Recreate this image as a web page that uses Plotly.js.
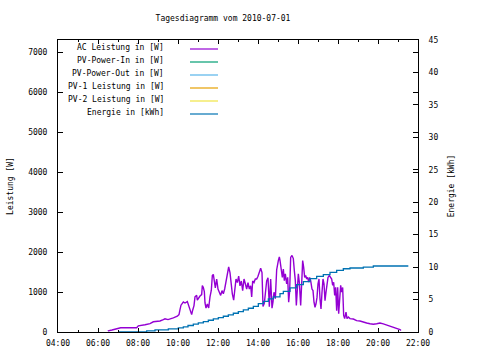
<!DOCTYPE html>
<html>
<head>
<meta charset="utf-8">
<script src="https://cdn.plot.ly/plotly-3.0.1.min.js"></script>
<style>html,body{margin:0;padding:0;background:#fff;}#chart{width:480px;height:360px;}</style>
</head>
<body>
<div id="chart"></div>
<script>
const chartDate = "2010-07-01";
const chartTitle = "Tagesdiagramm vom 2010-07-01";
const seriesNames = ["AC Leistung in [W]", "PV-Power-In in [W]", "PV-Power-Out in [W]", "PV-1 Leistung in [W]", "PV-2 Leistung in [W]", "Energie in [kWh]"];
const seriesColors = ["#9400d3", "#009e73", "#56b4e9", "#e69f00", "#f0e442", "#0072b2"];

const acTimes = ["06:30","06:31","06:42","06:54","07:08","07:56","08:01","08:21","08:36","08:46","09:06","09:16","09:21","09:30","09:41","09:46","09:58","10:03","10:06","10:09","10:16","10:21","10:28","10:30","10:36","10:41","10:44","10:48","10:51","10:56","10:58","11:02","11:06","11:11","11:13","11:16","11:19","11:21","11:24","11:28","11:32","11:36","11:40","11:43","11:46","11:49","11:52","11:56","12:00","12:04","12:08","12:12","12:16","12:20","12:24","12:28","12:32","12:36","12:39","12:43","12:47","12:51","12:54","12:58","13:02","13:06","13:10","13:14","13:18","13:22","13:26","13:30","13:34","13:38","13:41","13:44","13:48","13:52","13:56","14:00","14:04","14:08","14:12","14:15","14:19","14:23","14:26","14:30","14:34","14:38","14:42","14:45","14:48","14:52","14:56","15:01","15:04","15:06","15:09","15:13","15:16","15:19","15:22","15:26","15:29","15:32","15:35","15:38","15:42","15:46","15:49","15:52","15:55","15:58","16:01","16:04","16:08","16:11","16:14","16:17","16:20","16:23","16:26","16:29","16:32","16:35","16:38","16:42","16:45","16:48","16:51","16:54","16:57","17:00","17:03","17:06","17:09","17:12","17:15","17:18","17:21","17:24","17:27","17:30","17:34","17:38","17:41","17:44","17:47","17:50","17:53","17:56","17:59","18:02","18:05","18:08","18:11","18:14","18:17","18:20","18:24","18:27","18:31","18:36","18:46","18:56","19:06","19:16","19:26","19:36","19:46","19:56","20:06","20:16","20:26","20:36","20:46","20:56","21:06","21:09"];
const acPower = [20,30,50,80,105,105,155,180,210,255,275,310,330,310,330,355,395,435,560,670,750,725,760,700,575,435,545,660,880,915,795,860,900,935,1160,1110,1010,725,600,700,600,880,1045,1410,1440,1270,1105,1325,1075,995,915,1035,955,1075,1275,1395,1625,1485,1235,955,795,1075,1325,1235,1395,1155,1275,1035,1325,1205,1075,1235,1075,1155,875,1275,1235,1325,1325,1395,1515,1595,1485,635,715,995,1275,1355,635,1325,595,755,995,835,1555,1785,1875,1790,1615,1365,1575,1285,1455,1205,1365,745,1035,1865,1915,1835,1535,1285,665,1285,1455,1245,665,1205,1785,1615,1365,1415,1325,1365,1245,1365,1285,1075,1035,745,615,705,865,1205,1325,825,575,995,1325,1205,785,995,1285,1365,1415,1365,1325,1165,1245,915,1115,535,1115,455,995,1165,995,1115,415,335,495,335,375,335,325,285,275,245,225,205,195,205,225,205,175,155,125,95,60,35];

const energyTimes = ["07:00","08:26","08:51","09:31","10:01","10:16","10:30","10:46","11:01","11:16","11:31","11:46","12:01","12:16","12:31","12:46","13:01","13:16","13:31","13:46","14:01","14:16","14:31","14:46","15:06","15:16","15:36","15:56","16:16","16:36","16:56","17:16","17:36","17:56","18:16","18:36","19:16","19:46","21:31"];
const energyKWh = [0,0.18,0.34,0.49,0.65,0.8,1.0,1.2,1.41,1.61,1.81,2.03,2.23,2.43,2.64,2.89,3.15,3.41,3.66,3.96,4.38,4.73,5.1,5.41,5.9,6.27,6.79,7.3,7.76,8.22,8.57,8.83,9.19,9.49,9.75,9.86,10.0,10.17,10.17];

const xTickFormat = "%H:%M";
const FONT = "DejaVu Sans Mono, monospace";

const toDate = t => chartDate + " " + t + ":00";

const traces = [
  {x: acTimes.map(toDate), y: acPower, name: seriesNames[0], type: "scatter", mode: "lines", line: {color: seriesColors[0], width: 1.4}},
  {x: [], y: [], name: seriesNames[1], type: "scatter", mode: "lines", line: {color: seriesColors[1], width: 1}},
  {x: [], y: [], name: seriesNames[2], type: "scatter", mode: "lines", line: {color: seriesColors[2], width: 1}},
  {x: [], y: [], name: seriesNames[3], type: "scatter", mode: "lines", line: {color: seriesColors[3], width: 1}},
  {x: [], y: [], name: seriesNames[4], type: "scatter", mode: "lines", line: {color: seriesColors[4], width: 1}},
  {x: energyTimes.map(toDate), y: energyKWh, name: seriesNames[5], type: "scatter", mode: "lines", yaxis: "y2", line: {color: seriesColors[5], width: 1.3, shape: "hv"}}
];

const T = 40, B = 28, H = 360 - T - B, L = 58, R = 62, W = 480 - L - R;
const annotations = [], shapes = [];
seriesNames.forEach((n, i) => {
  const ly = 49 + 13 * i;
  annotations.push({text: n, xref: "paper", yref: "paper", x: (166 - L) / W, y: (360 - B - (ly - 1.5)) / H,
    xanchor: "right", yanchor: "middle", showarrow: false, font: {family: FONT, size: 8, color: "#000"}});
  shapes.push({type: "line", xref: "paper", yref: "paper", x0: (190 - L) / W, x1: (218 - L) / W,
    y0: (360 - B - ly) / H, y1: (360 - B - ly) / H, line: {color: seriesColors[i], width: 1.2}});
});

const layout = {
  width: 480, height: 360,
  margin: {l: L, r: R, t: T, b: B},
  paper_bgcolor: "#fff", plot_bgcolor: "#fff",
  font: {family: FONT, size: 8, color: "#000"},
  showlegend: false,
  title: {text: chartTitle, x: 223 / 480, xanchor: "center", y: 1 - 18 / 360, yanchor: "middle", font: {family: FONT, size: 8, color: "#000"}},
  xaxis: {
    type: "date", range: [toDate("04:00"), toDate("22:00")], dtick: 7200000, tick0: toDate("04:00"),
    tickformat: xTickFormat, ticks: "inside", ticklen: 4, tickcolor: "#000", showline: true, linecolor: "#000", linewidth: 1,
    mirror: "ticks", showgrid: false, zeroline: false, ticklabelstandoff: 3,
    minor: {dtick: 3600000, ticks: "inside", ticklen: 2, tickcolor: "#000", showgrid: false}
  },
  yaxis: {
    range: [0, 7300], dtick: 1000, ticks: "inside", ticklen: 5, tickcolor: "#000", showline: true, linecolor: "#000", linewidth: 1,
    mirror: "ticks", showgrid: false, zeroline: false, ticklabelstandoff: 8,
    title: {text: "Leistung [W]", font: {family: FONT, size: 8}, standoff: 13}
  },
  yaxis2: {
    range: [0, 45], dtick: 5, overlaying: "y", side: "right", ticks: "inside", ticklen: 5, tickcolor: "#000",
    showline: true, linecolor: "#000", linewidth: 1, showgrid: false, zeroline: false, ticklabelstandoff: 8,
    title: {text: "Energie [kWh]", font: {family: FONT, size: 8}, standoff: 10}
  },
  annotations: annotations,
  shapes: shapes
};

Plotly.newPlot("chart", traces, layout, {displayModeBar: false, staticPlot: true});
</script>
</body>
</html>
